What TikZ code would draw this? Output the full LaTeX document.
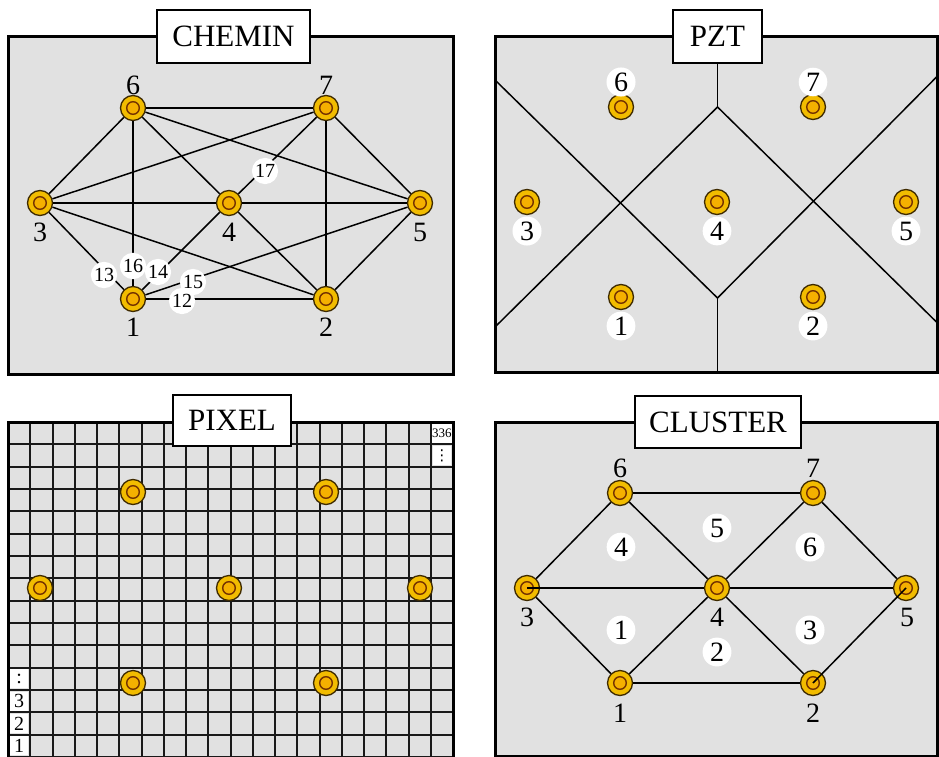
\documentclass[tikz,border=0pt]{standalone}
\usepackage{fontspec}
\setmainfont{Liberation Serif}
\newfontfamily\dejavu{DejaVu Sans}
\definecolor{panelgray}{HTML}{E1E1E1}
\definecolor{gold}{HTML}{F2BC00}
\definecolor{goldin}{HTML}{F5B000}
\definecolor{ringdark}{HTML}{3E2A00}
\definecolor{ringbrown}{HTML}{743200}
\begin{document}
\begin{tikzpicture}[x=1pt,y=-1pt,
  panel/.style={fill=panelgray, draw=black, line width=3pt},
  titlebox/.style={draw=black, fill=white, line width=1.2pt, font=\fontsize{31}{31}\selectfont, inner sep=0},
  sensor/.style={circle, minimum size=25pt, inner sep=0, fill=gold, draw=ringdark, line width=1.3pt,
    path picture={\draw[ringbrown, fill=goldin, line width=1.4pt] (path picture bounding box.center) circle (6.3pt);}},
  num/.style={font=\fontsize{28}{28}\selectfont, inner sep=0},
  wnum/.style={num, circle, fill=white, inner sep=2pt},
  elab/.style={font=\fontsize{20}{20}\selectfont, circle, fill=white, inner sep=0.8pt},
  link/.style={line width=1.5pt},
  divline/.style={line width=1.5pt},
  gridline/.style={line width=2pt, black!90},
  cellnum/.style={fill=white, inner sep=0, minimum width=18pt, minimum height=19pt, font=\fontsize{20}{20}\selectfont},
]
\useasboundingbox (0,0) rectangle (939,757);
\fill[white] (0,0) rectangle (939,757);
\clip (0,0) rectangle (939,757);

% ================= CHEMIN =================
\draw[panel] (8,37) rectangle (453,374);
\node[titlebox, minimum width=153pt, minimum height=53pt] (t1) at (233.5,36.5) {CHEMIN};
\node[sensor] (a1) at (133,299) {};
\node[sensor] (a2) at (326,299) {};
\node[sensor] (a3) at (40,203) {};
\node[sensor] (a4) at (229,203) {};
\node[sensor] (a5) at (420,203) {};
\node[sensor] (a6) at (133,108) {};
\node[sensor] (a7) at (326,108) {};
\foreach \u/\v in {a1/a2,a1/a3,a1/a4,a1/a5,a1/a6,a2/a3,a2/a4,a2/a5,a2/a7,a3/a4,a3/a6,a3/a7,a4/a5,a4/a6,a4/a7,a5/a6,a5/a7,a6/a7}
  \draw[link] (\u) -- (\v);
\node[elab] (e13) at (104,275) {13};
\node[elab] (e16) at (133,266) {16};
\node[elab] (e14) at (158,272) {14};
\node[elab] (e15) at (193,282) {15};
\node[elab] (e12) at (182,301) {12};
\node[elab] (e17) at (265,171) {17};
\node[num] (a6l) at (133,85) {6};
\node[num] (a7l) at (326,85) {7};
\node[num] (a3l) at (40,232) {3};
\node[num] (a4l) at (229,232) {4};
\node[num] (a5l) at (420,232) {5};
\node[num] (a1l) at (133,327) {1};
\node[num] (a2l) at (326,327) {2};

% ================= PZT =================
\draw[panel] (495,37) rectangle (937.5,372);
\node[titlebox, minimum width=89pt, minimum height=53pt] (t2) at (717.5,36.5) {PZT};
\coordinate (pA) at (717.5,107);
\coordinate (pB) at (717.5,298);
\coordinate (pL1) at (495,80);
\coordinate (pL2) at (495,327);
\coordinate (pR1) at (937.5,76);
\coordinate (pR2) at (937.5,323);
\coordinate (pBot) at (717.5,372);
\draw[divline] (t2.south) -- (pA);
\draw[divline] (pA) -- (pL2);
\draw[divline] (pA) -- (pR2);
\draw[divline] (pL1) -- (pB);
\draw[divline] (pR1) -- (pB);
\draw[divline] (pB) -- (pBot);
\node[sensor] (b1) at (621,297) {};
\node[sensor] (b2) at (813,297) {};
\node[sensor] (b3) at (527,202) {};
\node[sensor] (b4) at (717,202) {};
\node[sensor] (b5) at (906,202) {};
\node[sensor] (b6) at (621,107) {};
\node[sensor] (b7) at (813,107) {};
\node[wnum] (b6l) at (621,82) {6};
\node[wnum] (b7l) at (813,82) {7};
\node[wnum] (b3l) at (527,231) {3};
\node[wnum] (b4l) at (717,231) {4};
\node[wnum] (b5l) at (906,231) {5};
\node[wnum] (b1l) at (621,326) {1};
\node[wnum] (b2l) at (813,326) {2};

% ================= PIXEL =================
\fill[panelgray] (8,422) rectangle (453,757);
\foreach \i in {1,...,19}
  \draw[gridline] ({8+\i*22.25},422) -- ({8+\i*22.25},757);
\foreach \j in {1,...,15}
  \draw[gridline] (8,{422+\j*22.33}) -- (453,{422+\j*22.33});
\node[cellnum, font=\fontsize{13}{13}\selectfont] (p336) at (441.9,433.2) {336};
\node[cellnum, font=\dejavu\fontsize{15}{15}\selectfont] (pvd) at (441.9,455.5) {⋮};
\node[cellnum] (pcol) at (19.1,678.8) {:};
\node[cellnum] (p3) at (19.1,701.1) {3};
\node[cellnum] (p2) at (19.1,723.5) {2};
\node[cellnum] (p1) at (19.1,745.8) {1};
\draw[line width=3pt] (8,757) -- (8,422) -- (453,422) -- (453,757);
\node[titlebox, minimum width=118pt, minimum height=51pt] (t3) at (232,420.5) {PIXEL};
\node[sensor] (c1) at (133,683) {};
\node[sensor] (c2) at (326,683) {};
\node[sensor] (c3) at (40,588) {};
\node[sensor] (c4) at (229,588) {};
\node[sensor] (c5) at (420,588) {};
\node[sensor] (c6) at (133,492) {};
\node[sensor] (c7) at (326,492) {};

% ================= CLUSTER =================
\draw[panel] (495,422) rectangle (937.5,756);
\node[titlebox, minimum width=166pt, minimum height=52pt] (t4) at (718,422) {CLUSTER};
\node[sensor] (d1) at (620,683) {};
\node[sensor] (d2) at (813,683) {};
\node[sensor] (d3) at (527,588) {};
\node[sensor] (d4) at (717,588) {};
\node[sensor] (d5) at (906,588) {};
\node[sensor] (d6) at (620,493) {};
\node[sensor] (d7) at (813,493) {};
\foreach \u/\v in {d6/d7,d6/d3,d6/d4,d7/d4,d7/d5,d4/d5,d3/d1,d1/d4,d4/d2,d1/d2}
  \draw[link] (\u) -- (\v);
\draw[link] (d3.center) -- (d4);
\draw[link] (d2.center) -- (d5.center);
\node[num] (d6l) at (620,468) {6};
\node[num] (d7l) at (813,468) {7};
\node[num] (d3l) at (527,617) {3};
\node[num] (d4l) at (717,617) {4};
\node[num] (d5l) at (907,617) {5};
\node[num] (d1l) at (620,713) {1};
\node[num] (d2l) at (813,713) {2};
\node[wnum] (r4) at (621,547) {4};
\node[wnum] (r5) at (717,528) {5};
\node[wnum] (r6) at (810,547) {6};
\node[wnum] (r1) at (621,630) {1};
\node[wnum] (r2) at (717,652) {2};
\node[wnum] (r3) at (810,630) {3};
\end{tikzpicture}
\end{document}
